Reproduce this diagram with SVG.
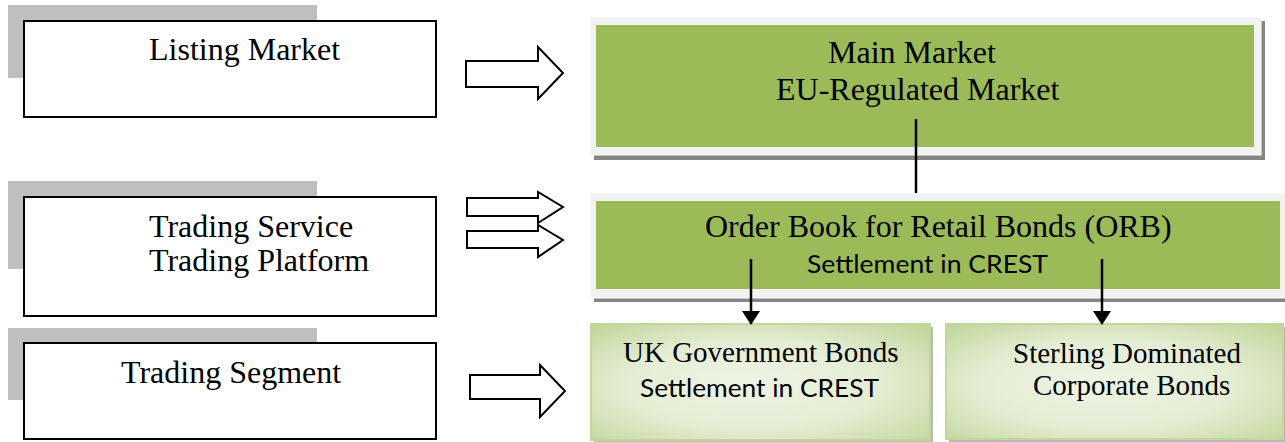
<svg xmlns="http://www.w3.org/2000/svg" width="1285" height="442" viewBox="0 0 1285 442">
<defs>
<style>
.serif{font-family:"Liberation Serif","Times New Roman",serif;font-size:32px;fill:#000}
.serif29{font-family:"Liberation Serif","Times New Roman",serif;font-size:29px;fill:#000}
.sans{font-family:Lato,"Liberation Sans",sans-serif;font-size:25px;fill:#000}
.shadowL{fill:#bfbfbf}
.box{fill:#fff;stroke:#000;stroke-width:2}
.frame{fill:#f2f2f2;stroke:#fff;stroke-width:1}
.frameShadow{fill:#858585}
.green{fill:#9bbb59}
.leaf{fill:url(#leafGrad);stroke:#c3d69b;stroke-width:2}
.leafShadow{fill:#b9b9b9}
.barrow{fill:#fff;stroke:#000;stroke-width:2;stroke-linejoin:miter}
.line{stroke:#000;stroke-width:2.5;fill:none}
.head{fill:#000}
</style>
<radialGradient id="leafGrad" cx="0.5" cy="0.55" r="0.75" fx="0.45" fy="0.5">
<stop offset="0" stop-color="#eef4e5"/>
<stop offset="0.5" stop-color="#e4edd3"/>
<stop offset="1" stop-color="#bfd396"/>
</radialGradient>
</defs>

<g id="listing-market">
<rect class="shadowL" x="8" y="5" width="309" height="73"/>
<rect class="box" x="24" y="21" width="412" height="96"/>
<text class="serif" x="149" y="60">Listing Market</text>
</g>

<g id="trading-service">
<rect class="shadowL" x="8" y="181" width="309" height="88"/>
<rect class="box" x="24" y="197" width="412" height="119"/>
<text class="serif" x="149" y="237">Trading Service</text>
<text class="serif" x="149" y="271">Trading Platform</text>
</g>

<g id="trading-segment">
<rect class="shadowL" x="8" y="328" width="309" height="72"/>
<rect class="box" x="24" y="343" width="412" height="96"/>
<text class="serif" x="121" y="383">Trading Segment</text>
</g>

<g id="main-market">
<rect class="frameShadow" x="594" y="21" width="671" height="139"/>
<rect class="frame" x="590" y="17" width="671" height="138"/>
<rect class="green" x="596" y="25" width="658" height="122"/>
<text class="serif" x="828" y="63">Main Market</text>
<text class="serif" x="776" y="100">EU-Regulated Market</text>
</g>

<g id="orb">
<rect class="frameShadow" x="594" y="197" width="700" height="105"/>
<rect class="frame" x="590" y="193" width="700" height="105"/>
<rect class="green" x="596" y="201" width="684" height="88"/>
<text class="serif" x="705" y="237">Order Book for Retail Bonds (ORB)</text>
<text class="sans" x="807" y="273" textLength="241" lengthAdjust="spacingAndGlyphs">Settlement in CREST</text>
</g>

<g id="uk-gov-bonds">
<rect class="leafShadow" x="594" y="327" width="339" height="116"/>
<rect class="leaf" x="591" y="324" width="339" height="116"/>
<text class="serif29" x="623" y="362">UK Government Bonds</text>
<text class="sans" x="640" y="397" textLength="239" lengthAdjust="spacingAndGlyphs">Settlement in CREST</text>
</g>

<g id="sterling-bonds">
<rect class="leafShadow" x="949" y="327" width="336" height="115"/>
<rect class="leaf" x="946" y="324" width="337" height="115"/>
<text class="serif29" x="1013" y="363">Sterling Dominated</text>
<text class="serif29" x="1033" y="395">Corporate Bonds</text>
</g>

<g id="connectors">
<path class="barrow" d="M466,61 H538 V47 L563,73 L538,99 V87 H466 Z"/>
<path class="barrow" d="M467,198 H538 V192 L563,207 L538,223 V216 H467 Z"/>
<path class="barrow" d="M467,231 H538 V225 L563,240 L538,257 V248 H467 Z"/>
<path class="barrow" d="M470,375 H540 V365 L565,391 L540,417 V399 H470 Z"/>
<line class="line" x1="916" y1="119" x2="916" y2="193"/>
<line class="line" x1="751" y1="259" x2="751" y2="313"/>
<polygon class="head" points="742,311 760,311 751,325"/>
<line class="line" x1="1102" y1="259" x2="1102" y2="313"/>
<polygon class="head" points="1093,311 1111,311 1102,325"/>
</g>
</svg>
